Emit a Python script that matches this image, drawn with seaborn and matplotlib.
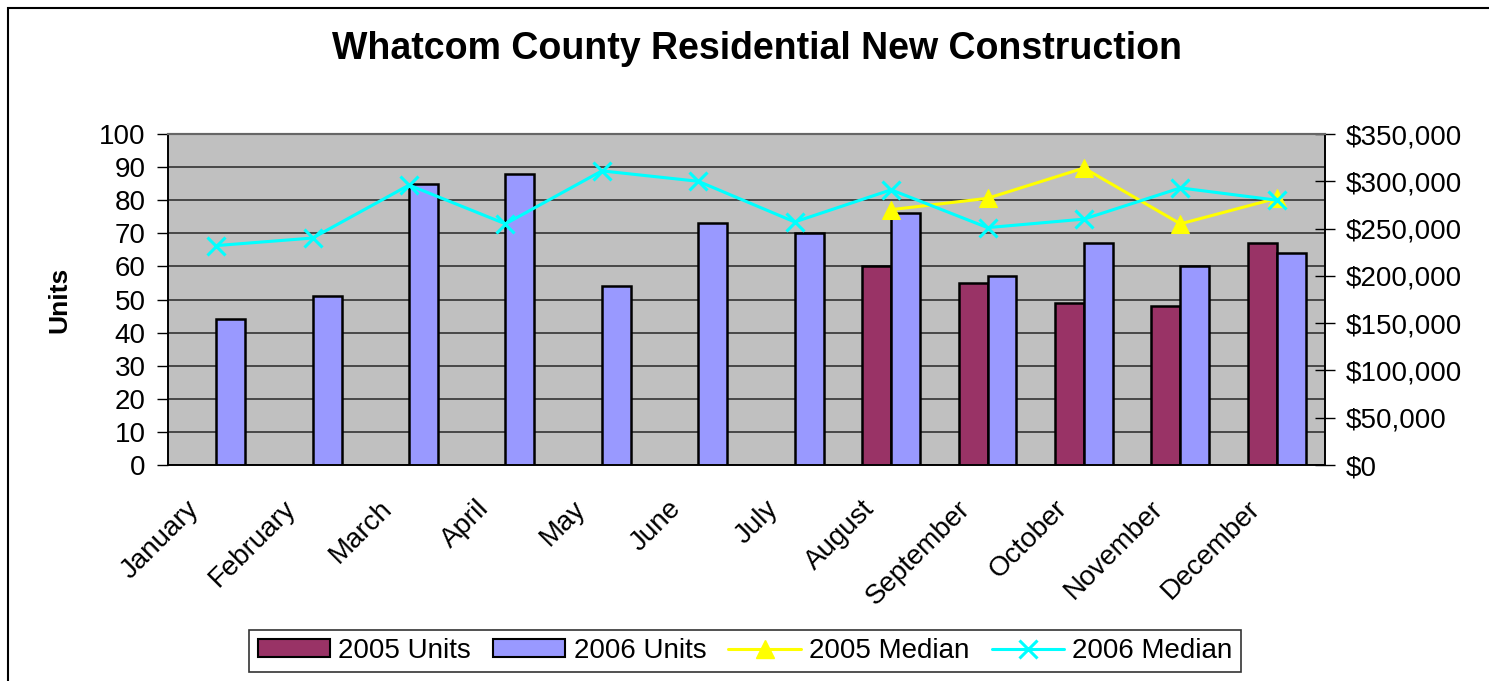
import numpy as np
import pandas as pd
import matplotlib
matplotlib.use("Agg")
import matplotlib.pyplot as plt
import matplotlib.transforms as mtransforms
from matplotlib.ticker import FuncFormatter, MultipleLocator
from matplotlib.patches import Rectangle
import seaborn as sns

months = ['January', 'February', 'March', 'April', 'May', 'June', 'July',
          'August', 'September', 'October', 'November', 'December']
units_2005 = [np.nan, np.nan, np.nan, np.nan, np.nan, np.nan, np.nan, 60, 55, 49, 48, 67]
units_2006 = [44, 51, 85, 88, 54, 73, 70, 76, 57, 67, 60, 64]
median_2005 = [np.nan, np.nan, np.nan, np.nan, np.nan, np.nan, np.nan,
               270000, 282000, 314000, 255000, 282000]
median_2006 = [232000, 240000, 296000, 255000, 311000, 300000, 257000,
               291000, 251000, 260000, 293000, 280000]

sns.set_theme(style="white")
plt.rcParams['font.family'] = ['Liberation Sans', 'DejaVu Sans']
plt.rcParams.update({'text.color': 'black', 'axes.labelcolor': 'black',
                     'xtick.color': 'black', 'ytick.color': 'black'})

df = pd.DataFrame({
    'month': months * 2,
    'units': units_2005 + units_2006,
    'series': ['2005 Units'] * 12 + ['2006 Units'] * 12,
})

fig = plt.figure(figsize=(14.89, 6.81), dpi=100)
ax = fig.add_axes([168 / 1489, 1 - 465 / 681, (1325 - 168) / 1489, (465 - 134) / 681])
ax.set_facecolor('#C0C0C0')

sns.barplot(data=df, x='month', y='units', hue='series', order=months,
            hue_order=['2005 Units', '2006 Units'],
            palette={'2005 Units': '#993366', '2006 Units': '#9999FF'},
            width=0.6, edgecolor='black', linewidth=1.8, saturation=1,
            ax=ax, legend=False, zorder=3)

ax.set_ylim(0, 100)
ax.set_xlim(-0.5, 11.5)
ax.yaxis.set_major_locator(MultipleLocator(10))
ax.grid(axis='y', color='#333333', linewidth=1.2, zorder=0)
ax.set_axisbelow(True)
ax.set_ylabel('Units', fontsize=19, fontweight='bold', labelpad=20)
ax.set_xlabel('')

# category boundaries carry the tick marks, labels sit at centres
pos = np.arange(12)
ax.set_xticks(np.arange(-0.5, 12, 1))
ax.set_xticklabels([])
ax.set_xticks(pos, minor=True)
ax.set_xticklabels(months, minor=True, rotation=45, ha='right',
                   rotation_mode='anchor', fontsize=20)
ax.tick_params(axis='x', which='major', direction='out', length=8, width=1, color='black')
ax.tick_params(axis='x', which='minor', length=0, pad=22)
offset = mtransforms.ScaledTranslation(-30 / 100, 0, fig.dpi_scale_trans)
for lab in ax.get_xticklabels(minor=True):
    lab.set_transform(lab.get_transform() + offset)
ax.tick_params(axis='y', direction='out', length=8, width=1, color='black',
               labelsize=20, pad=8)

ax2 = ax.twinx()
sns.lineplot(x=pos, y=median_2005, ax=ax2, color='#FFFF00', marker='^',
             markersize=13, markeredgecolor='#FFFF00', linewidth=2.2, zorder=5)
sns.lineplot(x=pos, y=median_2006, ax=ax2, color='#00FFFF', marker='x',
             markersize=13, markeredgecolor='#00FFFF', markeredgewidth=2.2,
             linewidth=2.2, zorder=5)
ax2.set_ylim(0, 350000)
ax2.yaxis.set_major_locator(MultipleLocator(50000))
ax2.yaxis.set_major_formatter(FuncFormatter(lambda v, p: '${:,.0f}'.format(v)))
ax2.tick_params(axis='y', direction='inout', length=14, width=1, color='black',
                labelsize=20, pad=8)
ax2.set_xlim(-0.5, 11.5)

for a in (ax, ax2):
    for side in ('left', 'right', 'bottom'):
        a.spines[side].set_color('black')
        a.spines[side].set_linewidth(1.2)
    a.spines['top'].set_color('#666666')
    a.spines['top'].set_linewidth(1.5)

fig.text(757 / 1489, 1 - 49 / 681, 'Whatcom County Residential New Construction',
         ha='center', va='center', fontsize=27, fontweight='bold')

handles = [
    Rectangle((0, 0), 1, 1, facecolor='#993366', edgecolor='black', linewidth=1.5),
    Rectangle((0, 0), 1, 1, facecolor='#9999FF', edgecolor='black', linewidth=1.5),
    plt.Line2D([], [], color='#FFFF00', marker='^', markersize=13, linewidth=2.2),
    plt.Line2D([], [], color='#00FFFF', marker='x', markersize=13,
               markeredgewidth=2.2, linewidth=2.2),
]
leg = fig.legend(handles, ['2005 Units', '2006 Units', '2005 Median', '2006 Median'],
                 loc='center', bbox_to_anchor=(745 / 1489, 1 - 651 / 681), ncol=4,
                 fontsize=20, frameon=True, fancybox=False, edgecolor='black',
                 handlelength=2.6, handleheight=0.6, handletextpad=0.3,
                 columnspacing=0.8, borderpad=0.3)
leg.get_frame().set_linewidth(1.2)

fig.patches.append(Rectangle((8 / 1489, -0.1), 1.2, 1 - 8 / 681 + 0.1,
                             transform=fig.transFigure, fill=False,
                             edgecolor='black', linewidth=1.5))

fig.savefig('out.png', dpi=100)
